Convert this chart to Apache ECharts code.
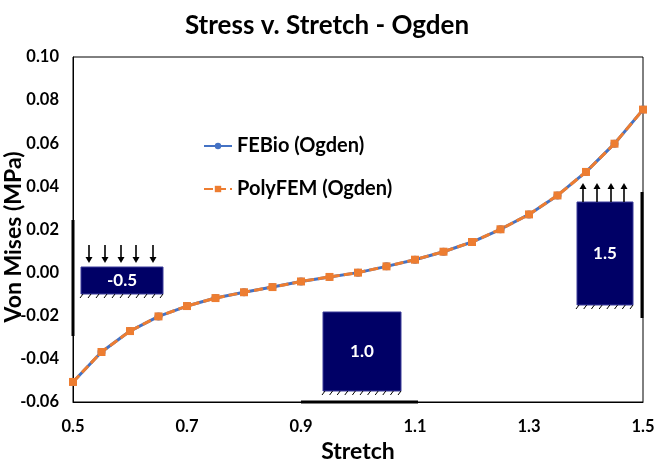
<!DOCTYPE html>
<html>
<head>
<meta charset="utf-8">
<script src="https://cdn.jsdelivr.net/npm/echarts@6/dist/echarts.min.js"></script>
<style>
  html, body { margin: 0; padding: 0; background: #fff; }
  #chart { width: 654px; height: 461px; }
</style>
</head>
<body>
<div id="chart"></div>
<script>
// Stretch ratios sampled by both solvers
const stretch = [0.5, 0.55, 0.6, 0.65, 0.7, 0.75, 0.8, 0.85, 0.9, 0.95, 1.0,
                 1.05, 1.1, 1.15, 1.2, 1.25, 1.3, 1.35, 1.4, 1.45, 1.5];
// Von Mises stress (MPa), signed by load direction
const febio = [-0.0507, -0.0368, -0.0271, -0.0203, -0.0155, -0.0118, -0.0091, -0.0067, -0.0041, -0.0020, 0.0,
               0.0029, 0.0060, 0.0097, 0.0142, 0.0201, 0.0270, 0.0358, 0.0467, 0.0598, 0.0756];
const polyfem = [-0.0507, -0.0368, -0.0271, -0.0203, -0.0155, -0.0118, -0.0091, -0.0067, -0.0041, -0.0020, 0.0,
                 0.0029, 0.0060, 0.0097, 0.0142, 0.0201, 0.0270, 0.0358, 0.0467, 0.0598, 0.0756];
const seriesNames = ['FEBio (Ogden)', 'PolyFEM (Ogden)'];
const xTicks = [0.5, 0.7, 0.9, 1.1, 1.3, 1.5];

const FONT = 'Lato, "Open Sans", sans-serif';
const NAVY = '#000066';

const chart = echarts.init(document.getElementById('chart'), null, { renderer: 'canvas' });

// --- small specimen sketches drawn as decoration ---
function hatch(x0, x1, y, n) {
  const out = [];
  const step = (x1 - x0) / n;
  for (let i = 0; i <= n; i++) {
    const x = x0 + i * step;
    out.push({ type: 'line', shape: { x1: x - 2, y1: y + 4, x2: x + 1, y2: y }, style: { stroke: '#000', lineWidth: 1 }, silent: true });
  }
  return out;
}
function arrow(x, yFrom, yTo) {
  const dir = yTo > yFrom ? 1 : -1;
  return [
    { type: 'line', shape: { x1: x, y1: yFrom, x2: x, y2: yTo - dir * 4 }, style: { stroke: '#000', lineWidth: 1.6 }, silent: true },
    { type: 'polygon', shape: { points: [[x - 3.5, yTo - dir * 6], [x + 3.5, yTo - dir * 6], [x, yTo]] }, style: { fill: '#000' }, silent: true }
  ];
}
function block(x, y, w, h, label) {
  return [
    { type: 'rect', shape: { x: x, y: y, width: w, height: h }, style: { fill: NAVY, stroke: '#3c3c9a', lineWidth: 1 }, silent: true },
    { type: 'text', x: x + w / 2, y: y + h / 2, style: { text: label, fill: '#fff', font: 'bold 17px ' + FONT, align: 'center', verticalAlign: 'middle' }, silent: true }
  ];
}

const graphics = [].concat(
  // compressed specimen
  block(81, 267, 82, 27, '-0.5'),
  hatch(82, 162, 294, 10),
  arrow(89, 245, 263), arrow(105, 245, 263), arrow(121, 245, 263), arrow(136, 245, 263), arrow(153, 245, 263),
  [{ type: 'line', shape: { x1: 73, y1: 220, x2: 73, y2: 336 }, style: { stroke: '#000', lineWidth: 3 }, silent: true }],
  // reference specimen
  block(323, 312, 78, 79, '1.0'),
  hatch(324, 400, 391, 10),
  [{ type: 'line', shape: { x1: 301, y1: 402, x2: 418, y2: 402 }, style: { stroke: '#000', lineWidth: 3 }, silent: true }],
  // stretched specimen
  block(577, 202, 56, 103, '1.5'),
  hatch(578, 632, 305, 7),
  arrow(583, 202, 183), arrow(597, 202, 183), arrow(611, 202, 183), arrow(624, 202, 183),
  [{ type: 'line', shape: { x1: 642, y1: 192, x2: 642, y2: 318 }, style: { stroke: '#000', lineWidth: 3 }, silent: true }],
  // vertical axis title
  [{ type: 'text', x: 14, y: 237, rotation: Math.PI / 2,
     style: { text: 'Von Mises (MPa)', fill: '#000', font: 'bold 23px ' + FONT, align: 'center', verticalAlign: 'middle' }, silent: true }]
);

chart.setOption({
  animation: false,
  backgroundColor: '#fff',
  title: {
    text: 'Stress v. Stretch - Ogden',
    left: 'center',
    top: 8,
    textStyle: { fontFamily: FONT, fontWeight: 'bold', fontSize: 26, color: '#000' }
  },
  grid: {
    left: 73, right: 11, top: 57, bottom: 59,
    outerBoundsMode: 'none', containLabel: false,
    show: true, borderColor: '#000', borderWidth: 1, backgroundColor: 'transparent'
  },
  legend: {
    orient: 'vertical',
    left: 198, top: 131,
    itemWidth: 28, itemHeight: 8, itemGap: 23,
    data: seriesNames,
    textStyle: { fontFamily: FONT, fontWeight: 'bold', fontSize: 20, color: '#000' }
  },
  xAxis: {
    type: 'value',
    min: 0.5, max: 1.5, interval: 0.2,
    name: 'Stretch', nameLocation: 'middle', nameGap: 36,
    nameTextStyle: { fontFamily: FONT, fontWeight: 'bold', fontSize: 23, color: '#000' },
    axisLine: { show: true, onZero: false, lineStyle: { color: '#000', width: 1 } },
    axisTick: { show: false },
    splitLine: { show: false },
    axisLabel: {
      margin: 16,
      fontFamily: FONT, fontWeight: 'bold', fontSize: 16.5, color: '#000',
      formatter: v => xTicks.find(t => Math.abs(t - v) < 1e-9) !== undefined ? v.toFixed(1) : ''
    }
  },
  yAxis: {
    type: 'value',
    min: -0.06, max: 0.10, interval: 0.02,
    axisLine: { show: true, onZero: false, lineStyle: { color: '#000', width: 1 } },
    axisTick: { show: false },
    splitLine: { show: false },
    axisLabel: {
      margin: 14,
      fontFamily: FONT, fontWeight: 'bold', fontSize: 16.5, color: '#000',
      formatter: v => v.toFixed(2)
    }
  },
  series: [
    {
      name: seriesNames[0], type: 'line',
      data: stretch.map((s, i) => [s, febio[i]]),
      symbol: 'circle', symbolSize: 8,
      lineStyle: { color: '#4472C4', width: 3 },
      itemStyle: { color: '#4472C4' },
      z: 2
    },
    {
      name: seriesNames[1], type: 'line',
      data: stretch.map((s, i) => [s, polyfem[i]]),
      symbol: 'rect', symbolSize: 8,
      lineStyle: { color: '#ED7D31', width: 3, type: [9, 4] },
      itemStyle: { color: '#ED7D31' },
      z: 3
    }
  ],
  graphic: graphics
});
</script>
</body>
</html>
